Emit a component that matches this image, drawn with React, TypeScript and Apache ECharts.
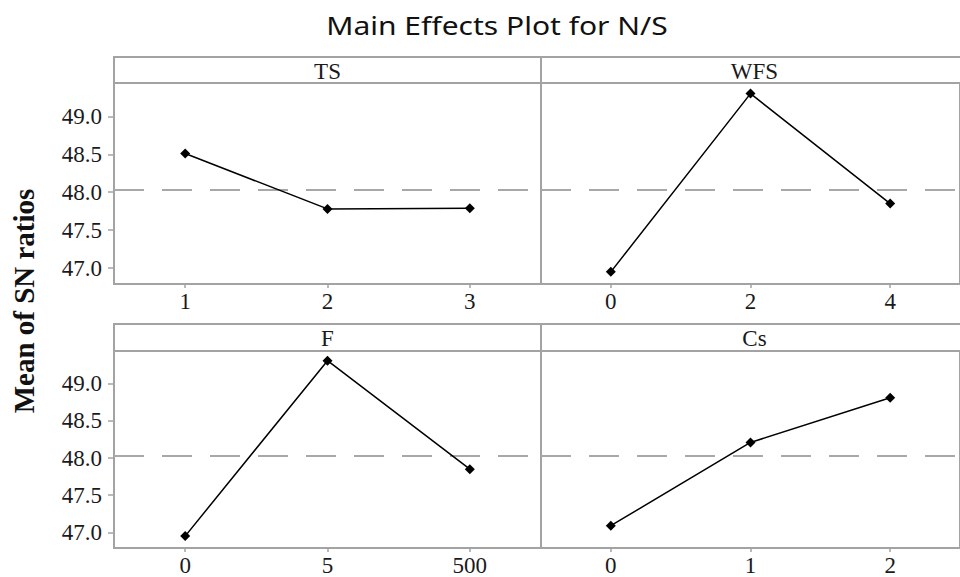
import React, { useEffect, useRef } from "react";
import * as echarts from "echarts";

// ---- Data ----
const chartTitle = "Main Effects Plot for N/S";
const yAxisTitle = "Mean of SN ratios";
const factors = ["TS", "WFS", "F", "Cs"];
const tsLevels = ["1", "2", "3"];
const tsMeans = [48.51, 47.78, 47.79];
const wfsLevels = ["0", "2", "4"];
const wfsMeans = [46.95, 49.3, 47.85];
const fLevels = ["0", "5", "500"];
const fMeans = [46.95, 49.31, 47.85];
const csLevels = ["0", "1", "2"];
const csMeans = [47.09, 48.21, 48.81];
const yTicks = [47.0, 47.5, 48.0, 48.5, 49.0];
const grandMean = 48.03;
const yMin = 46.79;
const yMax = 49.44;

const levelsList = [tsLevels, wfsLevels, fLevels, csLevels];
const meansList = [tsMeans, wfsMeans, fMeans, csMeans];

// ---- Layout ----
const panels = [
  { left: 114, top: 83, height: 201, headTop: 57, headH: 26, yLabels: true },
  { left: 541, top: 83, height: 201, headTop: 57, headH: 26, yLabels: false },
  { left: 114, top: 351, height: 198, headTop: 324, headH: 27, yLabels: true },
  { left: 541, top: 351, height: 198, headTop: 324, headH: 27, yLabels: false },
];
const panelW = 427;
const frame = "#a3a3a3";
const serif = "'Liberation Serif', 'Times New Roman', serif";
const textColor = "#1a1a1a";

export default function App() {
  const ref = useRef<HTMLDivElement>(null);

  useEffect(() => {
    if (!ref.current) return;
    const chart = echarts.init(ref.current, undefined, { renderer: "svg" });

    const grids = panels.map((p) => ({
      left: p.left,
      top: p.top,
      width: panelW,
      height: p.height,
      show: true,
      borderColor: frame,
      borderWidth: 2,
      backgroundColor: "transparent",
      containLabel: false,
    }));

    const xAxes = panels.map((p, i) => ({
      type: "category",
      gridIndex: i,
      data: levelsList[i],
      boundaryGap: true,
      axisLine: { show: false },
      axisTick: {
        show: true,
        alignWithLabel: true,
        length: 4,
        lineStyle: { color: frame, width: 1.5 },
      },
      axisLabel: {
        fontFamily: serif,
        fontSize: 23,
        color: textColor,
        margin: 6,
      },
      splitLine: { show: false },
    }));

    const yAxes = panels.map((p, i) => ({
      type: "value",
      gridIndex: i,
      min: yMin,
      max: yMax,
      axisLine: { show: false },
      splitLine: { show: false },
      axisTick: {
        show: p.yLabels,
        customValues: yTicks,
        length: 6,
        lineStyle: { color: frame, width: 1.5 },
      },
      axisLabel: {
        show: p.yLabels,
        customValues: yTicks,
        formatter: (v: number) => v.toFixed(1),
        fontFamily: serif,
        fontSize: 23,
        color: textColor,
        margin: 12,
      },
    }));

    const series = panels.map((p, i) => ({
      type: "line",
      xAxisIndex: i,
      yAxisIndex: i,
      data: meansList[i],
      symbol: "diamond",
      symbolSize: 10,
      lineStyle: { color: "#000", width: 1.5 },
      itemStyle: { color: "#000" },
      z: 5,
      markLine: {
        silent: true,
        symbol: ["none", "none"],
        label: { show: false },
        lineStyle: { type: [30, 18], color: "#a8a8a8", width: 2 },
        data: [{ yAxis: grandMean }],
        z: 1,
      },
    }));

    const headers: any[] = [];
    panels.forEach((p, i) => {
      headers.push({
        type: "rect",
        shape: { x: p.left, y: p.headTop, width: panelW, height: p.headH },
        style: { fill: "#fff", stroke: frame, lineWidth: 2 },
        z: 10,
      });
      headers.push({
        type: "text",
        x: p.left + panelW / 2,
        y: p.headTop + p.headH / 2 + 1,
        style: {
          text: factors[i],
          fontFamily: serif,
          fontSize: 23,
          fill: textColor,
          textAlign: "center",
          textVerticalAlign: "middle",
        },
        z: 11,
      });
    });

    chart.setOption({
      animation: false,
      backgroundColor: "#fff",
      grid: grids,
      xAxis: xAxes,
      yAxis: yAxes,
      series,
      graphic: [
        ...headers,
        {
          type: "text",
          x: 497,
          y: 25,
          scaleX: 1.2,
          style: {
            text: chartTitle,
            fontFamily: "'Noto Sans', 'Open Sans', sans-serif",
            fontSize: 25,
            fill: "#111",
            textAlign: "center",
            textVerticalAlign: "middle",
          },
        },
        {
          type: "text",
          x: 24,
          y: 301,
          rotation: Math.PI / 2,
          style: {
            text: yAxisTitle,
            fontFamily: serif,
            fontWeight: "bold",
            fontSize: 29,
            fill: "#111",
            textAlign: "center",
            textVerticalAlign: "middle",
          },
        },
      ],
    });

    return () => chart.dispose();
  }, []);

  return (
    <div
      ref={ref}
      style={{ position: "absolute", left: 0, top: 0, width: 960, height: 577 }}
    />
  );
}
